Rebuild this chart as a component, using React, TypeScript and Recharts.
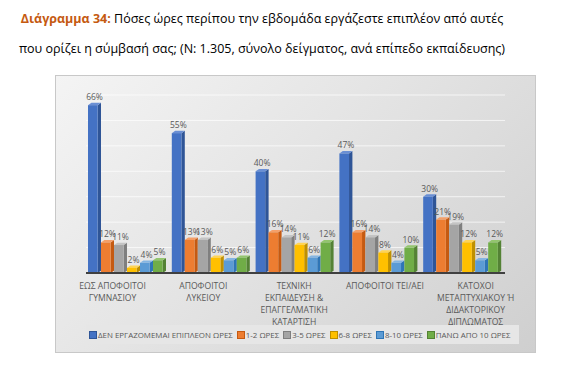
import React from "react";
import { BarChart, Bar, XAxis, YAxis, CartesianGrid, LabelList, Legend } from "recharts";

const categories = [
  "ΕΩΣ ΑΠΟΦΟΙΤΟΙ ΓΥΜΝΑΣΙΟΥ",
  "ΑΠΟΦΟΙΤΟΙ ΛΥΚΕΙΟΥ",
  "ΤΕΧΝΙΚΗ ΕΚΠΑΙΔΕΥΣΗ & ΕΠΑΓΓΕΛΜΑΤΙΚΗ ΚΑΤΑΡΤΙΣΗ",
  "ΑΠΟΦΟΙΤΟΙ ΤΕΙ/ΑΕΙ",
  "ΚΑΤΟΧΟΙ ΜΕΤΑΠΤΥΧΙΑΚΟΥ Ή ΔΙΔΑΚΤΟΡΙΚΟΥ ΔΙΠΛΩΜΑΤΟΣ",
];
const categoryLines = [
  ["ΕΩΣ ΑΠΟΦΟΙΤΟΙ", "ΓΥΜΝΑΣΙΟΥ"],
  ["ΑΠΟΦΟΙΤΟΙ", "ΛΥΚΕΙΟΥ"],
  ["ΤΕΧΝΙΚΗ", "ΕΚΠΑΙΔΕΥΣΗ &", "ΕΠΑΓΓΕΛΜΑΤΙΚΗ", "ΚΑΤΑΡΤΙΣΗ"],
  ["ΑΠΟΦΟΙΤΟΙ ΤΕΙ/ΑΕΙ"],
  ["ΚΑΤΟΧΟΙ", "ΜΕΤΑΠΤΥΧΙΑΚΟΥ Ή", "ΔΙΔΑΚΤΟΡΙΚΟΥ", "ΔΙΠΛΩΜΑΤΟΣ"],
];

const seriesNames = [
  "ΔΕΝ ΕΡΓΑΖΟΜΕΜΑΙ ΕΠΙΠΛΕΟΝ ΩΡΕΣ",
  "1-2 ΩΡΕΣ",
  "3-5 ΩΡΕΣ",
  "6-8 ΩΡΕΣ",
  "8-10 ΩΡΕΣ",
  "ΠΑΝΩ ΑΠΟ 10 ΩΡΕΣ",
];
const noExtra = [66, 55, 40, 47, 30];
const h1to2 = [12, 13, 16, 16, 21];
const h3to5 = [11, 13, 14, 14, 19];
const h6to8 = [2, 6, 11, 8, 12];
const h8to10 = [4, 5, 6, 4, 5];
const over10 = [5, 6, 12, 10, 12];
const seriesValues = [noExtra, h1to2, h3to5, h6to8, h8to10, over10];
const yTicks = [0, 10, 20, 30, 40, 50, 60, 70];

const colors = ["#4472C4", "#ED7D31", "#A5A5A5", "#FFC000", "#5B9BD5", "#70AD47"];
const sideColors = ["#2F5597", "#C55A11", "#7F7F7F", "#BF9000", "#2E75B6", "#548235"];
const topColors = ["#6A8FD4", "#F4A06A", "#C4C4C4", "#FFD454", "#84B5E2", "#93C56E"];

const data = categories.map((c, i) => {
  const row: any = { name: c, idx: i };
  seriesValues.forEach((vals, s) => {
    row["s" + s] = vals[i];
  });
  return row;
});

const makeShape = (s: number) => (props: any) => {
  const { x, y, width, height } = props;
  if (height <= 0 && width <= 0) return null;
  const fw = width * 0.74;
  const d = width - fw;
  const dy = d * 0.7;
  return (
    <g>
      <polygon
        points={`${x + fw},${y} ${x + fw + d},${y - dy} ${x + fw + d},${y + height - dy} ${x + fw},${y + height}`}
        fill={sideColors[s]}
      />
      <polygon
        points={`${x},${y} ${x + d},${y - dy} ${x + fw + d},${y - dy} ${x + fw},${y}`}
        fill={topColors[s]}
      />
      <rect x={x} y={y} width={fw} height={height} fill={colors[s]} />
    </g>
  );
};

const CatTick = (props: any) => {
  const { x, y, index } = props;
  const lines = categoryLines[index] || [];
  const dx = (index - 2.2) * 7;
  return (
    <g transform={`translate(${x + dx},${y})`}>
      {lines.map((l: string, i: number) => (
        <text
          key={i}
          x={0}
          y={8 + i * 12}
          textAnchor="middle"
          fontSize={8.6}
          fill="#595959"
          fontFamily="'Open Sans', sans-serif"
        >
          {l}
        </text>
      ))}
    </g>
  );
};

const LegendContent = () => (
  <div
    style={{
      display: "flex",
      alignItems: "center",
      background: "#e6e6e6",
      height: 19,
      width: 433,
      margin: "0 auto",
      paddingLeft: 3,
      boxSizing: "border-box",
      fontFamily: "'Open Sans', sans-serif",
      fontSize: 7.9,
      color: "#595959",
      whiteSpace: "nowrap",
    }}
  >
    {seriesNames.map((n, i) => (
      <span key={i} style={{ display: "inline-flex", alignItems: "center", marginRight: 4 }}>
        <span
          style={{
            display: "inline-block",
            width: 6,
            height: 6,
            background: colors[i],
            border: `1px solid ${sideColors[i]}`,
            marginRight: 1,
          }}
        />
        {n}
      </span>
    ))}
  </div>
);

export default function App() {
  return (
    <div style={{ position: "absolute", left: 0, top: 0, width: 587, height: 391, background: "#ffffff" }}>
      <div
        style={{
          position: "absolute",
          left: 0,
          top: 4,
          width: 524,
          textAlign: "center",
          fontFamily: "'Open Sans', sans-serif",
          fontSize: 12.5,
          lineHeight: "30px",
          color: "#000",
          whiteSpace: "nowrap",
        }}
      >
        <div>
          <span style={{ color: "#C55A11", fontWeight: "bold" }}>Διάγραμμα 34:</span> Πόσες ώρες περίπου την
          εβδομάδα εργάζεστε επιπλέον από αυτές
        </div>
        <div>που ορίζει η σύμβασή σας; (N: 1.305, σύνολο δείγματος, ανά επίπεδο εκπαίδευσης)</div>
      </div>
      <div
        style={{
          position: "absolute",
          left: 55,
          top: 75,
          width: 481,
          height: 278,
          boxSizing: "border-box",
          border: "1px solid #c8c8c8",
          background: "linear-gradient(135deg, #f4f4f4 0%, #e4e4e4 45%, #cfcfcf 100%)",
        }}
      >
        <BarChart
          width={479}
          height={276}
          data={data}
          margin={{ top: 19, right: 30, left: 30, bottom: 0 }}
          barCategoryGap={2}
          barGap={0}
        >
          <CartesianGrid vertical={false} stroke="#ffffff" strokeOpacity={0.7} />
          <YAxis hide domain={[0, 70]} ticks={yTicks} />
          <XAxis
            dataKey="name"
            tick={<CatTick />}
            tickLine={false}
            axisLine={{ stroke: "#404040", strokeWidth: 2 }}
            interval={0}
            height={60}
          />
          <Legend verticalAlign="bottom" content={<LegendContent />} wrapperStyle={{ bottom: 8 }} />
          {seriesNames.map((n, s) => (
            <Bar key={s} dataKey={"s" + s} name={n} isAnimationActive={false} shape={makeShape(s)}>
              <LabelList
                dataKey={"s" + s}
                position="top"
                offset={5}
                formatter={(v: any) => `${v}%`}
                style={{ fontSize: 8.5, fill: "#595959", fontFamily: "'Open Sans', sans-serif" }}
              />
            </Bar>
          ))}
        </BarChart>
      </div>
    </div>
  );
}
